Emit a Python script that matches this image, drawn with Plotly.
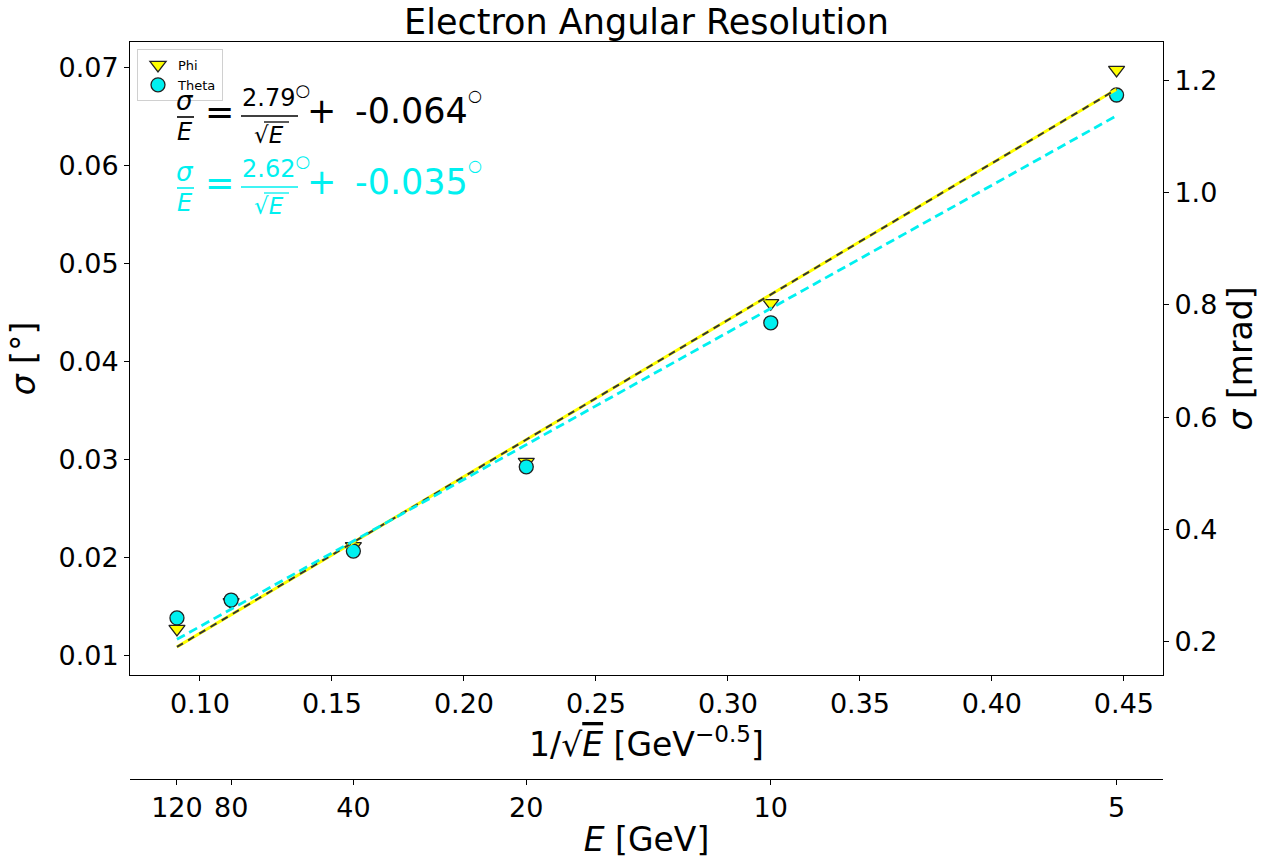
import numpy as np
import plotly.graph_objects as go

# Beam energies [GeV] and measured angular resolutions [deg]
energy = [120, 80, 40, 20, 10, 5]
sigma_phi = [0.01276, 0.0155, 0.0212, 0.0298, 0.0460, 0.0698]
sigma_theta = [0.01388, 0.01571, 0.0207, 0.0293, 0.0440, 0.06724]

# Fit coefficients: sigma = a / sqrt(E) + b  (mrad)
phi_fit = [2.79, -0.064]
theta_fit = [2.62, -0.035]

energy_ticks = [120, 80, 40, 20, 10, 5]
energy_ticktext = ["120", "80", "40", "20", "10", "5"]

DEG2MRAD = np.pi / 180 * 1000
FONT = "DejaVu Sans"
CYAN = "#00f0f0"

inv_sqrt_e = 1 / np.sqrt(np.array(energy, dtype=float))
x_range = [0.0735, 0.4648]
y_range = [0.00806, 0.07265]

# figure geometry, used to place the equation glyphs
W, H = 1262, 859
ML, MR, MT, MB = 130, 99, 42, 0


def px(x):
    return (x - ML) / (W - ML - MR)


def py(y):
    return (H - MB - y) / (H - MT - MB)


fig = go.Figure()

# fit lines (drawn on the mrad scale)
phi_line = phi_fit[0] * inv_sqrt_e + phi_fit[1]
theta_line = theta_fit[0] * inv_sqrt_e + theta_fit[1]
fig.add_trace(go.Scatter(x=inv_sqrt_e, y=phi_line, mode="lines", xaxis="x2", yaxis="y2",
                         line=dict(color="#ffff00", width=3), showlegend=False, hoverinfo="skip"))
fig.add_trace(go.Scatter(x=inv_sqrt_e, y=phi_line, mode="lines", xaxis="x2", yaxis="y2",
                         line=dict(color="#333333", width=2, dash="7px,6px"),
                         showlegend=False, hoverinfo="skip"))
fig.add_trace(go.Scatter(x=inv_sqrt_e, y=theta_line, mode="lines", xaxis="x2", yaxis="y2",
                         line=dict(color=CYAN, width=2.8, dash="9px,5px"),
                         showlegend=False, hoverinfo="skip"))

# measured points
fig.add_trace(go.Scatter(x=inv_sqrt_e, y=sigma_phi, mode="markers", name="Phi",
                         marker=dict(symbol="triangle-down", size=14, color="#ffff00",
                                     line=dict(color="#222222", width=1.3))))
fig.add_trace(go.Scatter(x=inv_sqrt_e, y=sigma_theta, mode="markers", name="Theta",
                         marker=dict(symbol="circle", size=14, color=CYAN,
                                     line=dict(color="#222222", width=1.3))))

# fit equations, built from glyph pieces
annotations = []
shapes = []


def text(x, y, s, size, color, italic=False):
    if italic:
        s = "<i>" + s + "</i>"
    annotations.append(dict(x=px(x), y=py(y), xref="paper", yref="paper", text=s,
                            showarrow=False, xanchor="center", yanchor="middle",
                            font=dict(family=FONT, size=size, color=color)))


def bar(x0, x1, y, color, width=1.6):
    shapes.append(dict(type="line", xref="paper", yref="paper", x0=px(x0), x1=px(x1),
                       y0=py(y), y1=py(y), line=dict(color=color, width=width)))


def equation(coef, color, dy):
    text(185, 101 + dy, "σ", 26, color, italic=True)
    bar(177, 194, 117 + dy, color)
    text(185, 132 + dy, "E", 24, color, italic=True)
    text(219, 112 + dy, "=", 35, color)
    text(276, 96 + dy, f"{coef[0]:.2f}<sup>○</sup>", 24, color)
    bar(241, 298, 116 + dy, color)
    text(269, 135 + dy, "√<i>E</i>", 23, color)
    bar(264, 289, 122 + dy, color, 1.3)
    text(321, 111 + dy, "+", 35, color)
    text(411, 111 + dy, f"{coef[1]:.3f}", 35, color)
    text(475, 95 + dy, "○", 16, color)


equation(phi_fit, "#000000", 0)
equation(theta_fit, CYAN, 71)

axis_common = dict(showline=True, linecolor="black", linewidth=1, ticks="outside",
                   ticklen=5, tickwidth=1, tickcolor="black", showgrid=False,
                   zeroline=False, tickfont=dict(family=FONT, size=27, color="black"))

TITLE_SIZE = 33

fig.update_layout(
    width=W, height=H,
    margin=dict(l=ML, r=MR, t=MT, b=MB),
    paper_bgcolor="white", plot_bgcolor="white",
    font=dict(family=FONT, color="black"),
    title=dict(text="Electron Angular Resolution", xref="paper", x=0.5, xanchor="center",
               y=1 - 22 / H, yanchor="middle", font=dict(family=FONT, size=35)),
    xaxis=dict(**axis_common, range=x_range, mirror=True, tick0=0, dtick=0.05,
               tickformat=".2f", anchor="y",
               title=dict(text="1/√<span style='text-decoration:overline'><i>E</i></span> [GeV<sup>−0.5</sup>]",
                          font=dict(family=FONT, size=TITLE_SIZE), standoff=14)),
    xaxis2=dict(**axis_common, range=x_range, overlaying="x", anchor="free",
                position=py(779), side="bottom",
                tickmode="array", tickvals=list(1 / np.sqrt(np.array(energy_ticks, dtype=float))),
                ticktext=energy_ticktext,
                title=dict(text="<i>E</i> [GeV]", font=dict(family=FONT, size=TITLE_SIZE), standoff=6)),
    yaxis=dict(**axis_common, range=y_range, domain=[py(675), 1], mirror=True,
               tick0=0, dtick=0.01, tickformat=".2f",
               title=dict(text="<i>σ</i> [°]", font=dict(family=FONT, size=TITLE_SIZE), standoff=12)),
    yaxis2=dict(**axis_common, range=[v * DEG2MRAD for v in y_range], overlaying="y",
                side="right", anchor="x", tick0=0, dtick=0.2, tickformat=".1f",
                title=dict(text="<i>σ</i> [mrad]", font=dict(family=FONT, size=TITLE_SIZE), standoff=12)),
    legend=dict(x=px(137), y=py(49), xanchor="left", yanchor="top",
                bgcolor="rgba(255,255,255,0.85)", bordercolor="#d0d0d0", borderwidth=1,
                font=dict(family=FONT, size=13), itemsizing="trace"),
    annotations=annotations,
    shapes=shapes,
)

fig.write_html("out.html")
